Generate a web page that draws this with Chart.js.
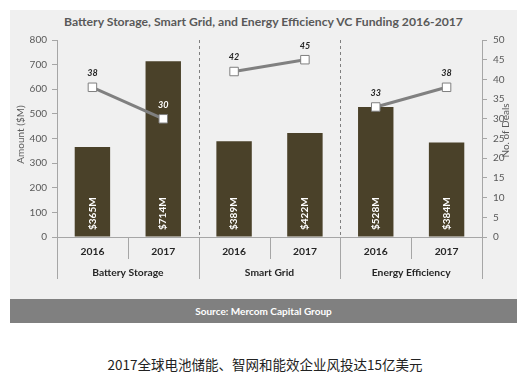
<!DOCTYPE html>
<html><head><meta charset="utf-8">
<script src="https://cdn.jsdelivr.net/npm/chart.js@4/dist/chart.umd.min.js"></script>
<style>
html,body{margin:0;padding:0;background:#fff;width:530px;height:379px;overflow:hidden;}
#panel{position:absolute;left:10px;top:10px;width:507px;height:289px;background:#f0f0f0;}
#title{position:absolute;left:10px;top:14px;width:507px;text-align:center;font:bold 12.2px Lato, "Open Sans", sans-serif;color:#595959;}
#src{position:absolute;left:10px;top:299px;width:507px;height:24px;background:#808080;color:#fff;text-align:center;font:bold 10px Lato, sans-serif;line-height:24px;}
#cap{position:absolute;left:0;top:354px;width:530px;text-align:center;font:13.5px "Noto Sans CJK SC", sans-serif;color:#222;}
canvas{position:absolute;left:0;top:0;}
</style></head><body>
<div id="panel"></div>
<div id="title">Battery Storage, Smart Grid, and Energy Efficiency VC Funding 2016-2017</div>
<div id="src">Source: Mercom Capital Group</div>
<div id="cap">2017全球电池储能、智网和能效企业风投达15亿美元</div>
<canvas id="c" width="530" height="300"></canvas>
<script>
const categories = ['2016','2017','2016','2017','2016','2017'];
const groups = ['Battery Storage','Smart Grid','Energy Efficiency'];
const amounts = [365, 714, 389, 422, 528, 384];
const amountLabels = ['$365M','$714M','$389M','$422M','$528M','$384M'];
const deals = [38, 30, 42, 45, 33, 38];
const leftTitle = 'Amount ($M)';
const rightTitle = 'No. of Deals';

const FONT = 'Lato, "Open Sans", sans-serif';
const AXIS = '#a6a6a6';

const extras = {
  id: 'extras',
  beforeDatasetsDraw(chart) {
    const {ctx, chartArea: a, scales: {x}} = chart;
    ctx.save();
    ctx.strokeStyle = '#7f7f7f';
    ctx.lineWidth = 1;
    ctx.setLineDash([3, 3]);
    [1, 3].forEach(i => {
      const xx = Math.round((x.getPixelForValue(i) + x.getPixelForValue(i + 1)) / 2) + 0.5;
      ctx.beginPath(); ctx.moveTo(xx, a.top); ctx.lineTo(xx, a.bottom); ctx.stroke();
    });
    ctx.restore();
  },
  afterDraw(chart) {
    const {ctx, chartArea: a, scales: {x, y, y1}} = chart;
    ctx.save();
    ctx.strokeStyle = AXIS; ctx.lineWidth = 1;
    for (let i = 0; i <= categories.length; i++) {
      let xx;
      if (i === 0) xx = a.left; else if (i === categories.length) xx = a.right;
      else xx = (x.getPixelForValue(i - 1) + x.getPixelForValue(i)) / 2;
      xx = Math.round(xx) + 0.5;
      const len = (i % 2 === 0) ? 42 : 22;
      ctx.beginPath(); ctx.moveTo(xx, a.bottom); ctx.lineTo(xx, a.bottom + len); ctx.stroke();
    }
    ctx.fillStyle = '#262626';
    ctx.font = 'bold 10.3px ' + FONT;
    ctx.textAlign = 'center'; ctx.textBaseline = 'middle';
    categories.forEach((c, i) => ctx.fillText(c, x.getPixelForValue(i), a.bottom + 15));
    groups.forEach((g, j) => {
      const cx = (x.getPixelForValue(2 * j) + x.getPixelForValue(2 * j + 1)) / 2;
      ctx.fillText(g, cx, a.bottom + 36);
    });
    ctx.fillStyle = '#595959';
    ctx.font = '10px ' + FONT;
    ctx.save(); ctx.translate(21, (a.top + a.bottom) / 2 - 4); ctx.rotate(-Math.PI / 2);
    ctx.fillText(leftTitle, 0, 0); ctx.restore();
    ctx.save(); ctx.translate(506, (a.top + a.bottom) / 2 - 8); ctx.rotate(-Math.PI / 2);
    ctx.fillText(rightTitle, 0, 0); ctx.restore();
    const barMeta = chart.getDatasetMeta(1);
    ctx.fillStyle = '#ffffff';
    ctx.font = 'bold 10px ' + FONT;
    barMeta.data.forEach((bar, i) => {
      ctx.save(); ctx.translate(bar.x, a.bottom - 7); ctx.rotate(-Math.PI / 2);
      ctx.textAlign = 'left'; ctx.textBaseline = 'middle';
      ctx.fillText(amountLabels[i], 0, 0); ctx.restore();
    });
    const lineMeta = chart.getDatasetMeta(0);
    ctx.font = 'italic bold 9px ' + FONT;
    ctx.textAlign = 'center'; ctx.textBaseline = 'middle';
    lineMeta.data.forEach((p, i) => {
      const barTop = barMeta.data[i].y;
      ctx.fillStyle = (p.y - 14 > barTop) ? '#ffffff' : '#262626';
      ctx.fillText(String(deals[i]), p.x, p.y - 14);
    });
    ctx.restore();
  }
};

new Chart(document.getElementById('c'), {
  data: {
    labels: categories,
    datasets: [
      {
        type: 'line', order: 0, yAxisID: 'y1', data: deals,
        borderColor: '#808080', borderWidth: 3,
        segment: { borderColor: c => (c.p0DataIndex % 2 === 1) ? 'rgba(0,0,0,0)' : '#808080' },
        pointStyle: 'rect', pointRadius: 6, pointBackgroundColor: '#ffffff',
        pointBorderColor: '#7f7f7f', pointBorderWidth: 1
      },
      {
        type: 'bar', order: 1, yAxisID: 'y', data: amounts,
        backgroundColor: '#4a4129', categoryPercentage: 1, barPercentage: 0.5
      }
    ]
  },
  options: {
    responsive: false, animation: false, devicePixelRatio: 1,
    layout: { padding: { top: 40, left: 0, right: 0, bottom: 0 } },
    plugins: { legend: { display: false }, tooltip: { enabled: false } },
    scales: {
      x: {
        ticks: { display: false }, grid: { display: false },
        border: { color: AXIS },
        afterFit: s => { s.height = 63; }
      },
      y: {
        position: 'left', min: 0, max: 800,
        ticks: { stepSize: 100, color: '#595959', font: { size: 10, family: FONT }, padding: 5 },
        grid: { drawOnChartArea: false, tickLength: 5, color: AXIS },
        border: { color: AXIS },
        afterFit: s => { s.width = 57; }
      },
      y1: {
        position: 'right', min: 0, max: 50,
        ticks: { stepSize: 5, color: '#595959', font: { size: 10, family: FONT }, padding: 6 },
        grid: { drawOnChartArea: false, tickLength: 5, color: AXIS },
        border: { color: AXIS },
        afterFit: s => { s.width = 48; }
      }
    }
  },
  plugins: [extras]
});
</script>
</body></html>
